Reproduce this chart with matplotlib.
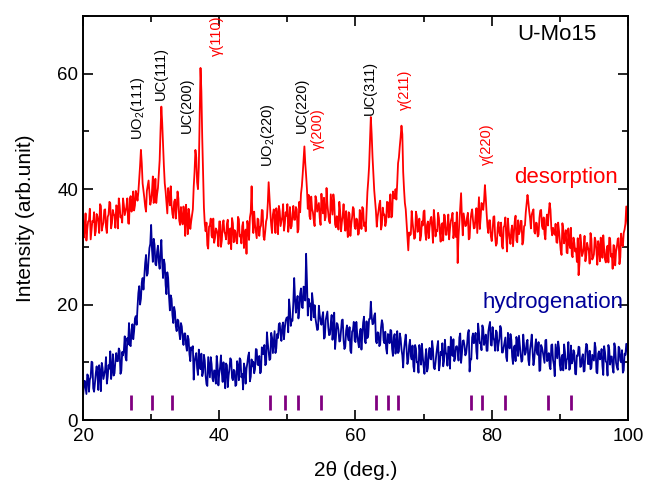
import numpy as np
import matplotlib
matplotlib.use("Agg")
import matplotlib.pyplot as plt
from matplotlib.ticker import MultipleLocator

plt.rcParams["font.family"] = ["Liberation Sans", "DejaVu Sans"]
plt.rcParams["mathtext.default"] = "regular"

# ==========================================
# XRD DATA
# values at 20.0, 20.25, ... 100.0
# "mid" lists hold the points in between (20.125, 20.375, ...)
# ==========================================

desorption = [
    35.3, 32.9, 31.1, 34.4,  36.6, 32.9, 34.3, 32.0,  35.7, 34.3, 37.4, 32.8,
    34.2, 36.5, 32.4, 35.6,  37.6, 34.1, 35.7, 33.3,  37.0, 38.4, 35.1, 34.2,
    37.2, 36.2, 38.4, 34.0,  38.8, 37.6, 36.3, 39.7,  38.0, 41.8, 46.8, 41.0,
    38.5, 36.1, 40.6, 39.4,  38.0, 42.2, 38.8, 37.6,  40.2, 45.0, 54.3, 47.6,
    41.0, 37.6, 40.2, 37.2,  37.3, 35.0, 38.2, 36.8,  38.4, 33.8, 34.7, 37.0,
    31.9, 35.1, 36.6, 33.1,  35.4, 40.4, 46.8, 41.2,  43.8, 61.0, 49.0, 36.8,
    32.7, 30.3, 33.5, 34.9,  31.6, 30.7, 33.2, 32.2,  34.4, 30.0, 33.8, 32.6,
    31.3, 34.7, 32.0, 29.6,  34.1, 32.9, 31.0, 35.2,  31.8, 30.6, 34.3, 31.9,
    28.8, 33.4, 35.1, 40.5,  32.4, 33.8, 31.5, 34.7,  33.3, 36.4, 31.8, 32.7,
    35.0, 41.2, 36.0, 32.4,  36.5, 32.4, 35.6, 37.1,  33.6, 35.2, 32.8, 36.0,
    37.4, 34.1, 33.2, 35.7,  34.7, 36.9, 32.5, 37.8,  39.2, 42.6, 47.4, 42.4,
    36.6, 35.3, 38.7, 36.0,  33.6, 38.1, 36.9, 35.0,  39.2, 35.8, 34.6, 40.2,
    35.9, 34.1, 37.4, 39.1,  33.9, 35.3, 33.0, 36.2,  34.3, 37.4, 32.8, 33.7,
    36.0, 31.9, 35.1, 36.6,  33.1, 34.7, 32.3, 35.5,  36.9, 33.6, 32.7, 39.5,
    44.0, 52.5, 45.6, 39.8,  36.2, 35.2, 37.4, 33.0,  36.8, 35.6, 34.3, 37.7,
    37.5, 35.1, 39.6, 38.4,  38.2, 44.5, 47.4, 51.0,  43.0, 37.6, 34.2, 29.4,
    32.0, 36.2, 32.8, 31.6,  35.3, 32.9, 31.1, 34.4,  36.1, 32.4, 33.8, 31.5,
    34.7, 33.3, 36.4, 31.8,  32.7, 35.0, 30.9, 34.1,  35.6, 32.1, 33.7, 31.3,
    34.5, 35.9, 32.6, 31.7,  27.2, 34.2, 39.3, 32.0,  34.7, 33.7, 35.9, 31.5,
    35.8, 34.6, 33.3, 36.7,  35.5, 33.1, 37.6, 36.4,  40.7, 35.8, 32.4, 34.6,
    31.0, 35.2, 31.8, 30.6,  34.3, 31.9, 30.1, 33.4,  35.1, 29.2, 32.8, 30.5,
    33.7, 32.3, 35.4, 30.8,  32.2, 34.5, 30.4, 33.6,  36.0, 39.0, 36.2, 33.2,
    36.1, 32.6, 34.2, 31.8,  35.0, 36.4, 33.1, 32.2,  34.7, 33.7, 37.6, 33.2,
    33.3, 32.1, 30.8, 34.2,  31.0, 28.6, 33.1, 31.9,  29.0, 33.2, 29.8, 28.6,
    31.6, 29.2, 27.4, 25.1,  32.1, 28.4, 29.8, 27.5,  30.7, 29.3, 32.4, 27.8,
    28.7, 31.0, 26.9, 30.1,  31.6, 28.1, 29.7, 27.3,  30.2, 31.6, 28.3, 26.2,
    30.2, 29.2, 31.4, 27.0,  32.3, 30.1, 33.0, 37.0,  33.2,
]

desorption_mid = [
    31.6, 35.8, 33.1, 34.6,  31.3, 34.5, 36.0, 32.7,  35.3, 32.4, 37.1, 33.6,
    36.4, 33.4, 35.2, 37.8,  33.2, 36.4, 35.4, 37.2,  33.2, 37.2, 35.4, 38.4,
    35.5, 36.9, 34.1, 38.4,  36.1, 39.6, 37.2, 39.0,  39.5, 44.0, 44.5, 39.8,
    37.0, 39.7, 41.5, 37.3,  39.6, 37.6, 41.8, 39.1,  42.5, 50.0, 51.5, 44.0,
    39.6, 35.8, 39.0, 40.5,  35.7, 37.8, 34.9, 39.6,  34.6, 36.9, 33.9, 35.7,
    37.3, 32.2, 35.4, 34.4,  36.5, 43.0, 45.5, 40.0,  52.0, 57.0, 43.0, 34.0,
    34.2, 29.7, 33.7, 31.9,  34.9, 31.5, 32.9, 30.1,  34.4, 31.1, 34.6, 32.2,
    34.0, 30.5, 33.2, 35.0,  30.8, 32.6, 30.6, 34.8,  32.1, 33.6, 29.8, 33.0,
    34.5, 31.2, 36.0, 35.0,  36.1, 32.6, 34.9, 31.9,  33.7, 36.3, 31.2, 34.4,
    37.5, 38.5, 33.8, 35.6,  34.9, 36.7, 32.2, 36.2,  34.4, 37.4, 34.0, 35.4,
    32.6, 36.9, 33.6, 37.1,  34.7, 36.5, 33.0, 36.0,  40.5, 45.0, 44.5, 40.0,
    39.0, 34.8, 36.6, 34.6,  38.8, 36.1, 37.6, 33.8,  37.0, 38.5, 35.2, 37.3,
    34.4, 39.1, 35.6, 37.9,  33.4, 35.2, 37.8, 32.7,  35.4, 34.4, 36.2, 31.7,
    35.7, 33.9, 36.9, 33.5,  34.9, 32.1, 36.4, 33.1,  36.6, 34.2, 36.0, 41.5,
    48.0, 49.5, 42.5, 38.0,  33.5, 36.2, 38.0, 33.8,  35.6, 33.6, 37.8, 35.1,
    39.1, 35.3, 38.5, 40.0,  41.0, 45.5, 49.0, 49.5,  40.0, 36.5, 32.0, 32.5,
    32.2, 34.3, 31.4, 36.1,  32.6, 34.9, 31.9, 33.7,  36.3, 31.2, 34.4, 33.4,
    35.2, 30.7, 34.7, 32.9,  35.9, 32.5, 33.9, 31.1,  35.4, 32.1, 35.6, 33.2,
    35.0, 31.5, 34.2, 36.0,  31.8, 36.5, 35.0, 35.8,  33.6, 35.1, 31.3, 34.5,
    36.5, 33.2, 35.3, 32.4,  38.6, 35.1, 37.4, 38.0,  38.5, 33.5, 34.6, 31.8,
    32.7, 35.3, 30.2, 33.4,  32.4, 34.2, 29.7, 33.7,  31.9, 34.9, 31.5, 32.9,
    30.1, 34.4, 31.1, 34.6,  32.7, 34.5, 31.0, 33.7,  37.5, 37.8, 35.0, 35.6,
    36.5, 32.3, 34.1, 32.1,  36.3, 33.6, 35.1, 31.3,  35.6, 36.0, 36.4, 32.0,
    32.5, 34.0, 30.7, 32.8,  29.4, 34.1, 30.6, 32.9,  28.9, 30.7, 33.3, 28.2,
    30.7, 29.7, 31.5, 27.0,  30.7, 28.9, 31.9, 28.5,  29.9, 27.1, 31.4, 28.1,
    31.6, 29.2, 31.0, 27.5,  30.2, 32.0, 27.8, 29.6,  27.3, 31.5, 28.8, 30.3,
    26.8, 30.0, 31.5, 28.2,  30.5, 32.4, 34.0, 35.0,
]

hydrogenation = [
    4.0, 6.8, 4.5, 7.7,  7.0, 10.1, 5.5, 6.4,  9.3, 5.2, 8.4, 9.9,
    7.1, 8.7, 6.3, 9.5,  11.9, 8.6, 7.7, 10.2,  10.2, 12.4, 8.0, 11.8,
    12.1, 10.8, 14.2, 16.8,  12.8, 16.6, 15.4, 18.0,  19.5, 23.2, 21.0, 24.6,
    24.8, 28.6, 25.4, 29.8,  33.8, 27.4, 30.4, 26.8,  30.2, 26.2, 31.2, 24.6,
    27.0, 21.8, 24.6, 19.0,  21.0, 16.8, 18.8, 15.4,  17.2, 14.0, 16.2, 13.0,
    15.0, 12.0, 14.0, 10.2,  12.2, 7.0, 11.0, 9.0,  12.2, 8.8, 7.6, 11.3,
    7.7, 5.9, 9.2, 10.9,  7.2, 8.6, 6.3, 9.5,  8.1, 11.2, 6.6, 7.5,
    9.8, 5.7, 8.9, 10.4,  6.9, 8.5, 6.1, 9.3,  10.7, 7.4, 5.3, 9.0,
    8.9, 11.1, 6.7, 10.5,  10.1, 8.8, 12.2, 9.5,  8.1, 12.6, 11.4, 9.5,
    15.2, 11.8, 10.6, 14.3,  13.4, 11.6, 14.9, 16.6,  14.9, 16.3, 14.0, 17.2,
    17.8, 20.9, 16.3, 17.2,  24.6, 18.6, 21.5, 19.2,  22.8, 19.4, 23.0, 28.8,
    18.1, 19.7, 17.3, 20.5,  19.9, 16.6, 15.7, 18.2,  16.5, 18.7, 14.3, 18.1,
    16.1, 14.8, 18.2, 15.5,  12.3, 16.8, 15.6, 13.7,  17.3, 13.9, 12.7, 16.4,
    13.8, 12.0, 15.3, 17.0,  13.5, 14.9, 12.6, 15.8,  14.8, 17.9, 13.3, 14.2,
    17.5, 20.5, 16.6, 18.1,  13.6, 15.2, 12.8, 16.0,  16.6, 13.3, 12.4, 14.9,
    13.3, 15.5, 11.1, 14.9,  12.9, 11.6, 15.0, 12.3,  9.1, 13.6, 12.4, 10.5,
    13.9, 10.5, 9.3, 13.0,  10.0, 8.2, 11.5, 13.2,  9.3, 10.7, 8.4, 11.6,
    10.6, 13.7, 9.1, 10.0,  12.7, 8.6, 11.8, 13.3,  10.2, 11.8, 9.4, 12.6,
    14.4, 11.1, 10.2, 12.7,  12.1, 14.3, 9.9, 13.7,  12.9, 11.6, 15.0, 8.4,
    10.5, 15.0, 13.8, 11.9,  16.7, 13.3, 12.1, 15.8,  13.8, 12.0, 15.3, 17.0,
    12.9, 14.3, 12.0, 15.2,  13.2, 16.3, 11.7, 12.6,  14.3, 10.2, 13.4, 14.9,
    11.0, 12.6, 10.2, 13.4,  14.6, 11.3, 10.4, 12.9,  11.7, 13.9, 9.5, 13.3,
    11.9, 10.6, 14.0, 11.3,  8.5, 13.0, 11.8, 9.9,  13.9, 10.5, 9.3, 13.0,
    10.4, 7.6, 11.9, 13.6,  9.5, 10.9, 8.6, 11.8,  10.4, 13.5, 8.9, 9.8,
    12.1, 8.0, 11.2, 12.7,  9.2, 10.8, 8.4, 11.6,  13.0, 9.7, 8.8, 11.3,
    10.3, 12.5, 8.1, 11.9,  10.7, 9.4, 12.8, 10.1,  7.7, 12.2, 11.0, 9.1,
    13.3, 9.9, 8.7, 12.4,  10.0, 8.2, 11.5, 13.2,  10.6,
]

hydrogenation_mid = [
    6.0, 5.6, 7.9, 4.9,  7.4, 10.0, 4.9, 8.1,  7.7, 9.5, 5.0, 9.0,
    7.9, 10.9, 7.5, 8.9,  7.1, 11.4, 8.1, 11.6,  10.2, 12.0, 8.5, 11.2,
    14.5, 10.3, 13.1, 13.0,  15.6, 14.0, 17.6, 16.5,  22.0, 20.0, 23.8, 22.6,
    27.2, 25.0, 27.8, 30.5,  29.6, 31.4, 27.0, 29.2,  27.4, 29.0, 27.2, 27.8,
    23.4, 25.6, 21.4, 21.6,  18.2, 19.6, 16.2, 17.4,  15.2, 16.8, 14.2, 15.0,
    13.0, 14.6, 11.4, 12.6,  12.8, 10.1, 11.6, 7.8,  10.0, 11.5, 8.2, 10.3,
    6.2, 10.9, 7.4, 9.7,  6.7, 8.5, 11.1, 6.0,  9.2, 8.2, 10.0, 5.5,
    9.5, 7.7, 10.7, 7.3,  8.7, 5.9, 10.2, 6.9,  10.4, 8.0, 9.8, 6.3,
    9.9, 11.7, 7.5, 9.3,  8.1, 12.3, 9.6, 11.1,  8.3, 11.5, 13.0, 9.7,
    13.3, 10.4, 15.1, 11.6,  15.4, 12.4, 14.2, 16.8,  13.7, 16.9, 15.9, 17.7,
    15.2, 19.2, 17.4, 20.4,  21.0, 20.4, 17.6, 21.9,  19.6, 23.1, 20.7, 24.0,
    21.0, 20.2, 22.0, 17.8,  17.6, 15.6, 19.8, 17.1,  17.9, 14.1, 17.3, 18.8,
    14.7, 16.8, 13.9, 18.6,  14.3, 16.6, 13.6, 15.4,  17.4, 12.3, 15.5, 14.5,
    16.1, 11.6, 15.6, 13.8,  17.0, 13.6, 15.0, 12.2,  16.9, 13.6, 17.1, 14.7,
    17.5, 18.0, 16.7, 18.5,  13.3, 15.1, 13.1, 17.3,  13.8, 15.3, 11.5, 14.7,
    15.6, 12.3, 14.4, 11.5,  15.4, 11.9, 14.2, 11.2,  12.2, 14.8, 9.7, 12.9,
    11.1, 12.9, 8.4, 12.4,  10.0, 13.0, 9.6, 11.0,  8.0, 12.3, 9.0, 12.5,
    10.5, 12.3, 8.8, 11.5,  13.7, 9.5, 11.3, 9.3,  13.9, 11.2, 12.7, 8.9,
    12.5, 14.0, 10.7, 12.8,  10.3, 15.0, 11.5, 13.8,  11.2, 13.0, 15.6, 10.5,
    14.3, 13.3, 15.1, 10.6,  15.2, 13.4, 16.4, 13.0,  14.8, 12.0, 16.3, 13.0,
    16.1, 13.7, 15.5, 12.0,  14.1, 15.9, 11.7, 13.5,  10.9, 15.1, 12.4, 13.9,
    9.7, 12.9, 14.4, 11.1,  13.0, 10.1, 14.8, 11.3,  13.4, 10.4, 12.2, 14.8,
    9.5, 12.7, 11.7, 13.5,  8.6, 12.6, 10.8, 13.8,  10.2, 11.6, 8.8, 13.1,
    9.6, 13.1, 10.7, 12.5,  8.6, 11.3, 13.1, 8.9,  10.7, 8.7, 12.9, 10.2,
    11.7, 7.9, 11.1, 12.6,  9.3, 11.4, 8.5, 13.2,  9.7, 12.0, 9.0, 10.8,
    13.4, 8.3, 11.5, 10.5,  12.3, 7.8, 11.8, 10.0,  13.0, 9.6, 11.0, 8.2,
    12.5, 9.2, 12.7, 10.3,  12.1, 8.6, 11.3, 13.1,
]

# reference peak positions (purple bars)
ref_peaks = [27.0, 30.2, 33.1, 47.5, 49.7, 51.5, 55.0,
             63.0, 64.7, 66.2, 77.0, 78.6, 82.0, 88.3, 91.6]

# peak labels
peak_names = ["UO$_2$(111)", "UC(111)", "UC(200)", "γ(110)", "UO$_2$(220)",
              "UC(220)", "γ(200)", "UC(311)", "γ(211)", "γ(220)"]
peak_x = [28.0, 31.5, 35.3, 39.7, 47.1, 52.1, 54.5, 62.1, 67.3, 79.3]
peak_y = [48.6, 55.5, 49.7, 63.0, 43.8, 49.7, 46.8, 52.9, 53.7, 44.2]
peak_colors = ["black", "black", "black", "red", "black",
               "black", "red", "black", "red", "red"]

RED = "#ff0000"
BLUE = "#000099"
PURPLE = "#800080"

# put the in-between points into place
n = len(desorption) + len(desorption_mid)
two_theta = np.linspace(20, 100, n)
des = np.empty(n)
des[0::2] = desorption
des[1::2] = desorption_mid
hyd = np.empty(n)
hyd[0::2] = hydrogenation
hyd[1::2] = hydrogenation_mid

# ==========================================
# PLOT
# ==========================================

fig = plt.figure(figsize=(6.45, 4.82), dpi=100)
ax = fig.add_axes([0.1287, 0.1286, 0.8449, 0.8382])

ax.plot(two_theta, des, color=RED, linewidth=1.3)
ax.plot(two_theta, hyd, color=BLUE, linewidth=1.3)

ax.vlines(ref_peaks, 1.8, 4.3, color=PURPLE, linewidth=2)

for name, px, py, c in zip(peak_names, peak_x, peak_y, peak_colors):
    ax.text(px, py, name, rotation=90, ha="center", va="bottom",
            color=c, fontsize=10.5)

ax.text(89.6, 66.8, "U-Mo15", ha="center", va="center", fontsize=16)
ax.text(98.5, 41.1, "desorption", ha="right", va="baseline",
        color=RED, fontsize=16)
ax.text(99.3, 19.4, "hydrogenation", ha="right", va="baseline",
        color=BLUE, fontsize=16)

ax.set_xlim(20, 100)
ax.set_ylim(0, 70)
ax.xaxis.set_major_locator(MultipleLocator(20))
ax.xaxis.set_minor_locator(MultipleLocator(10))
ax.yaxis.set_major_locator(MultipleLocator(20))
ax.yaxis.set_minor_locator(MultipleLocator(10))
ax.tick_params(which="both", direction="in", top=True, right=True,
               labelsize=13.5, width=1.2)
ax.tick_params(which="major", length=7)
ax.tick_params(which="minor", length=4)
ax.tick_params(axis="x", pad=6)
for s in ax.spines.values():
    s.set_linewidth(1.4)

ax.set_xlabel("2θ (deg.)", fontsize=15, labelpad=11)
ax.set_ylabel("Intensity (arb.unit)", fontsize=15, labelpad=16)

fig.savefig("out.png", dpi=100)
